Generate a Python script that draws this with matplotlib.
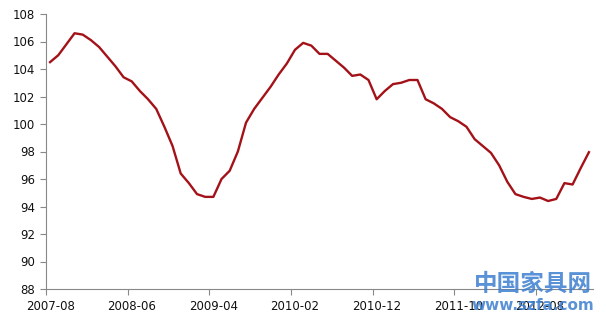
import matplotlib
matplotlib.use("Agg")
import matplotlib.pyplot as plt
import numpy as np

tick_labels = ["2007-08", "2008-06", "2009-04", "2010-02", "2010-12", "2011-10", "2012-08"]
values = [104.5, 105.0, 105.8, 106.6, 106.5, 106.1, 105.6, 104.9, 104.2, 103.4,
          103.1, 102.4, 101.8, 101.1, 99.8, 98.4, 96.4, 95.7, 94.9, 94.7,
          94.7, 96.0, 96.6, 98.0, 100.1, 101.1, 101.9, 102.7, 103.6, 104.4,
          105.4, 105.9, 105.7, 105.1, 105.1, 104.6, 104.1, 103.5, 103.6, 103.2,
          101.8, 102.4, 102.9, 103.0, 103.2, 103.2, 101.8, 101.5, 101.1, 100.5,
          100.2, 99.8, 98.9, 98.4, 97.9, 97.0, 95.8, 94.9, 94.7, 94.55,
          94.65, 94.4, 94.55, 95.7, 95.6, 96.8, 97.95]

fig = plt.figure(figsize=(6.06, 3.23), dpi=100)
ax = fig.add_axes([46/606, 1-289/323, (593-46)/606, (289-14)/323])

x = np.arange(len(values))
ax.plot(x, values, color="#A31218", lw=1.7, solid_joinstyle="round")

ax.set_xlim(-0.5, len(values) - 0.5)
ax.set_ylim(88, 108)
ax.set_yticks(np.arange(88, 109, 2))
ax.set_yticklabels([str(v) for v in range(88, 109, 2)])

major = np.arange(0, len(values), 10)
ax.set_xticks(major)
ax.set_xticklabels(tick_labels)
ax.set_xticks(np.arange(-0.5, len(values), 10), minor=True)
ax.tick_params(axis="x", which="major", length=0, pad=8, labelsize=8.5, colors="#111111")
ax.tick_params(axis="x", which="minor", length=4, width=0.8, color="#888888")
ax.tick_params(axis="y", length=4, width=0.8, color="#888888", labelsize=8.5, labelcolor="#111111", pad=4)

for s in ["top", "right"]:
    ax.spines[s].set_visible(False)
for s in ["left", "bottom"]:
    ax.spines[s].set_color("#888888")
    ax.spines[s].set_linewidth(0.8)

fig.text(533/606, 1-284/323, "中国家具网", family=["Noto Sans CJK SC", "DejaVu Sans"],
         fontsize=17, color="#3C7FD0", alpha=0.85, ha="center", va="center", fontweight="bold")
fig.text(533/606, 1-306/323, "www.szfa.com", family=["DejaVu Sans"],
         fontsize=11, color="#3C7FD0", alpha=0.85, ha="center", va="center", fontweight="bold")

fig.savefig("out.png", dpi=100)
